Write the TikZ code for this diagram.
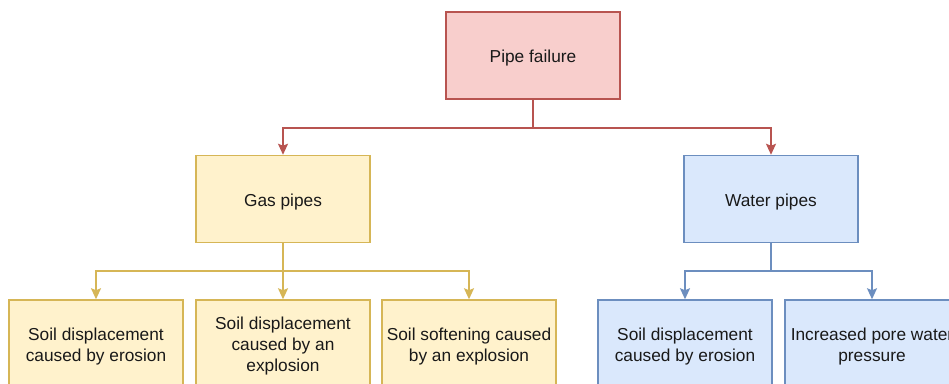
\documentclass[tikz,border=0pt]{standalone}
\usepackage{fontspec}
\setmainfont{Liberation Sans}
\usetikzlibrary{arrows.meta}
\definecolor{redfill}{HTML}{F8CECC}\definecolor{redline}{HTML}{B85450}
\definecolor{yelfill}{HTML}{FFF2CC}\definecolor{yelline}{HTML}{D6B656}
\definecolor{bluefill}{HTML}{DAE8FC}\definecolor{blueline}{HTML}{6C8EBF}
% zero-width strut that lowers the first line of a box label
\newcommand\firstln{\rule{0pt}{17.8pt}}
\begin{document}
\begin{tikzpicture}[x=1pt,y=-1pt,
  box/.style={rectangle,minimum width=174pt,minimum height=87pt,inner sep=0pt,
    line width=1.5pt,align=center,text=black!90,
    font=\fontsize{17.3}{21}\selectfont},
  redbox/.style={box,draw=redline,fill=redfill},
  yelbox/.style={box,draw=yelline,fill=yelfill},
  bluebox/.style={box,draw=blueline,fill=bluefill},
  link/.style={line width=1.6pt,-{Stealth[length=11pt,width=10pt,inset=2pt]}},
  stub/.style={line width=1.6pt}]
\useasboundingbox (0,0) rectangle (949,383);
\clip (0,0) rectangle (949,383);
\fill[white] (0,0) rectangle (949,383);
% boxes
\node[redbox] (pf) at (533,55.5) {\firstln Pipe failure};
\node[yelbox] (gas) at (283,199) {\firstln Gas pipes};
\node[bluebox] (water) at (771,199) {\firstln Water pipes};
\node[yelbox] (g1) at (96,343.5) {\firstln Soil displacement\\caused by erosion};
\node[yelbox] (g2) at (283,343.5) {\firstln Soil displacement\\caused by an\\explosion};
\node[yelbox] (g3) at (469,343.5) {\firstln Soil softening caused\\by an explosion};
\node[bluebox] (w1) at (685,343.5) {\firstln Soil displacement\\caused by erosion};
\node[bluebox] (w2) at (872,343.5) {\firstln Increased pore water\\pressure};
% branch points
\coordinate (jr) at (533,128);
\coordinate (jg) at (283,271);
\coordinate (jw) at (771,271);
% connectors
\draw[stub,redline] (pf.south) -- (jr);
\draw[link,redline] (jr) -| (gas.north);
\draw[link,redline] (jr) -| (water.north);
\draw[stub,yelline] (gas.south) -- (jg);
\draw[link,yelline] (jg) -| (g1.north);
\draw[link,yelline] (jg) -- (g2.north);
\draw[link,yelline] (jg) -| (g3.north);
\draw[stub,blueline] (water.south) -- (jw);
\draw[link,blueline] (jw) -| (w1.north);
\draw[link,blueline] (jw) -| (w2.north);
\end{tikzpicture}
\end{document}
